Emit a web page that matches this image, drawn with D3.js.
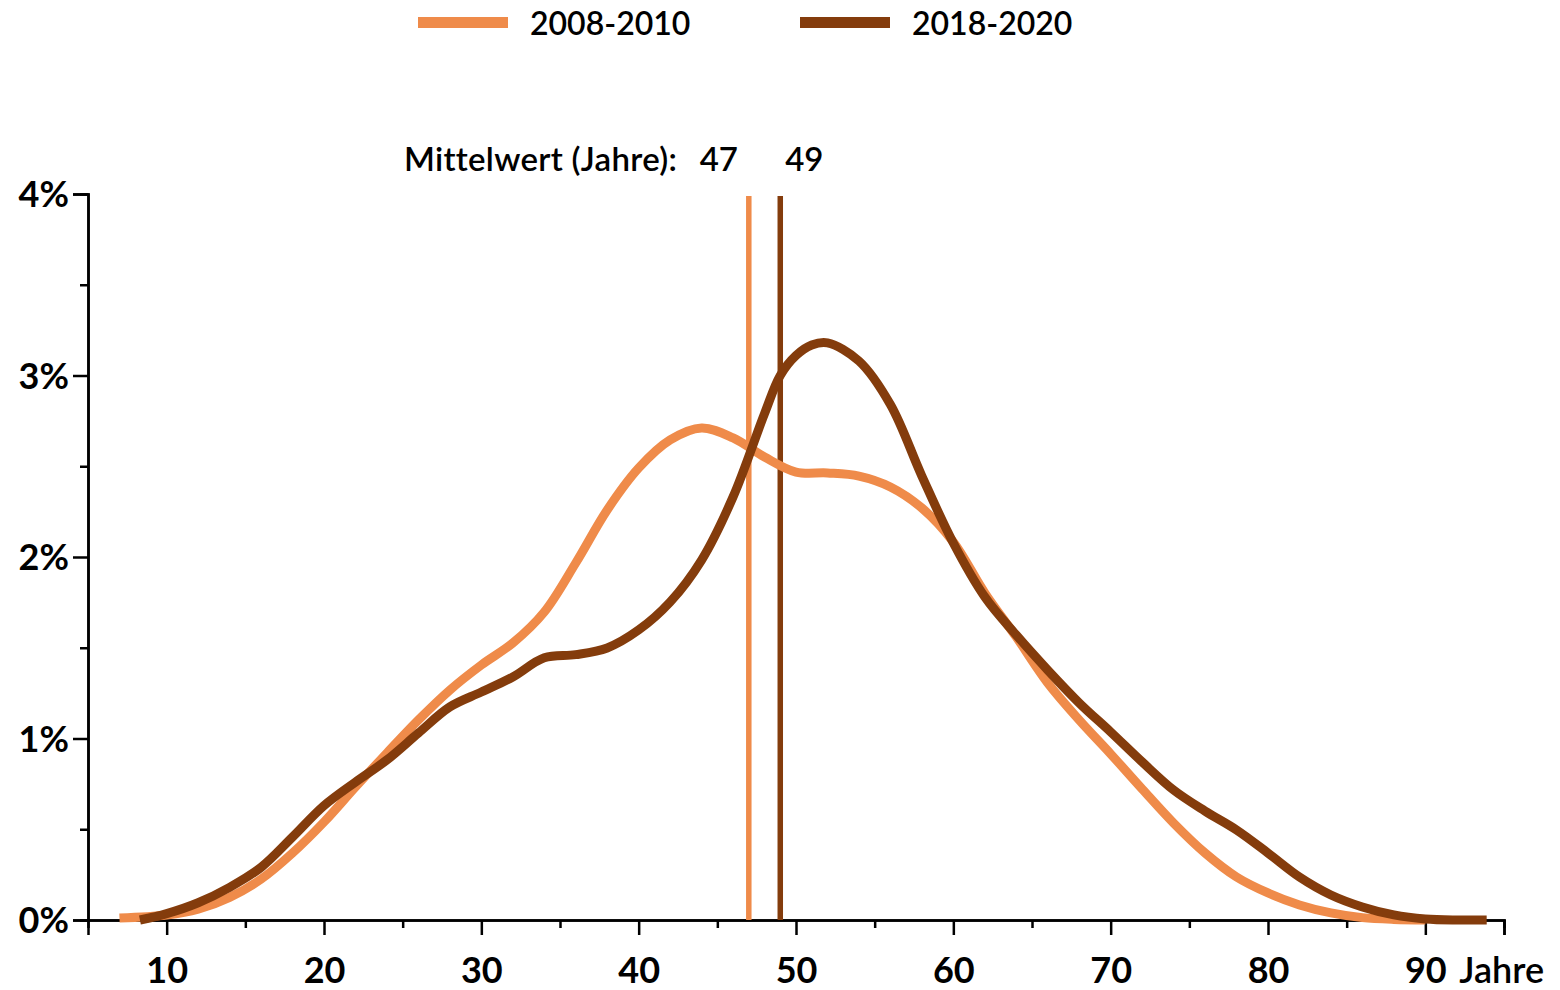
<!DOCTYPE html>
<html>
<head>
<meta charset="utf-8">
<script src="https://cdn.jsdelivr.net/npm/d3@7"></script>
<style>
  body { margin: 0; background: #fff; }
  svg { display: block; font-family: Lato, "Open Sans", sans-serif; }
</style>
</head>
<body>
<svg id="chart" width="1560" height="990"></svg>
<script>
// ---- Data ----
const seriesNames = ["2008-2010", "2018-2020"];
const seriesColors = ["#EF8B4A", "#843C0C"];
const meanAges = [47, 49];

const agesA = [7, 10, 12, 14, 16, 18, 20, 22, 24, 26, 28, 30, 32, 34, 36, 38, 40, 42, 44, 46, 48, 50, 52, 54, 56, 58, 60, 62, 64, 66, 68, 70, 72, 74, 76, 78, 80, 82, 84, 86, 88, 90];
const valuesA = [0.011, 0.028, 0.060, 0.125, 0.225, 0.369, 0.540, 0.733, 0.920, 1.102, 1.267, 1.405, 1.526, 1.697, 1.967, 2.259, 2.490, 2.645, 2.711, 2.656, 2.551, 2.468, 2.463, 2.446, 2.386, 2.270, 2.083, 1.802, 1.559, 1.306, 1.102, 0.915, 0.722, 0.534, 0.369, 0.237, 0.149, 0.083, 0.039, 0.013, 0.003, 0.0];

const agesB = [8.3, 10, 12, 14, 16, 18, 20, 22, 24, 26, 28, 30, 32, 34, 36, 38, 40, 42, 44, 46, 48, 49, 50, 51, 52, 54, 56, 58, 60, 62, 64, 66, 68, 70, 72, 74, 76, 78, 80, 82, 84, 86, 88, 90, 92, 93.9];
const valuesB = [0.0, 0.035, 0.095, 0.180, 0.290, 0.457, 0.630, 0.760, 0.882, 1.030, 1.174, 1.256, 1.339, 1.445, 1.462, 1.499, 1.598, 1.752, 1.983, 2.331, 2.790, 3.000, 3.110, 3.168, 3.180, 3.080, 2.840, 2.446, 2.077, 1.780, 1.570, 1.377, 1.196, 1.036, 0.871, 0.716, 0.600, 0.496, 0.369, 0.237, 0.138, 0.072, 0.028, 0.006, 0.0, 0.0];

const xMajorTicks = [10, 20, 30, 40, 50, 60, 70, 80, 90, 95];
const xMinorTicks = [15, 25, 35, 45, 55, 65, 75, 85];
const yMajorTicks = [0, 1, 2, 3, 4];
const yMinorTicks = [0.5, 1.5, 2.5, 3.5];
const xUnitLabel = "Jahre";
const meanLabel = "Mittelwert (Jahre):";

// ---- Layout ----
const svg = d3.select("#chart");
const x = d3.scaleLinear().domain([5, 95]).range([88, 1504]);
const y = d3.scaleLinear().domain([0, 4]).range([920, 194]);

const tickFont = 36;
// y axis
const yAxisMajor = d3.axisLeft(y).tickValues(yMajorTicks).tickSize(15).tickPadding(4).tickFormat(d => d + "%");
const yAxisMinor = d3.axisLeft(y).tickValues(yMinorTicks).tickSize(8).tickFormat("");
const gy = svg.append("g").attr("transform", `translate(${x(5)},0)`).call(yAxisMajor);
svg.append("g").attr("transform", `translate(${x(5)},0)`).call(yAxisMinor);

// x axis
const xAxisMajor = d3.axisBottom(x).tickValues(xMajorTicks).tickSize(15).tickPadding(22).tickFormat(d => d === 95 ? "" : d);
const xAxisMinor = d3.axisBottom(x).tickValues(xMinorTicks).tickSize(8).tickFormat("");
const gx = svg.append("g").attr("transform", `translate(0,${y(0)})`).call(xAxisMajor);
svg.append("g").attr("transform", `translate(0,${y(0)})`).call(xAxisMinor);

svg.selectAll(".domain").attr("stroke", "#000").attr("stroke-width", 2.5);
svg.selectAll(".tick line").attr("stroke", "#000").attr("stroke-width", 2.5);
[gy, gx].forEach(g => g.selectAll("text")
  .attr("font-size", tickFont).attr("font-weight", 700).attr("fill", "#000")
  .attr("font-family", "Lato, sans-serif"));
gy.selectAll("text").attr("dy", "0.36em");

// unit label after 90
svg.append("text").attr("x", x(90) + 34).attr("y", y(0) + 63)
  .attr("font-size", tickFont).attr("font-weight", 600).text(xUnitLabel);

// ---- Mean lines ----
meanAges.forEach((m, i) => {
  svg.append("line")
    .attr("x1", x(m)).attr("x2", x(m))
    .attr("y1", y(4) + 2).attr("y2", y(0))
    .attr("stroke", seriesColors[i]).attr("stroke-width", 5.5);
});

// mean labels
svg.append("text").attr("x", 404).attr("y", 171).attr("font-size", 33).attr("font-weight", 600)
  .attr("letter-spacing", 0.3).text(meanLabel);
const meanLabelOffsets = [-30, 24];
meanAges.forEach((m, i) => {
  svg.append("text").attr("x", x(m) + meanLabelOffsets[i]).attr("y", 171).attr("text-anchor", "middle")
    .attr("font-size", 33).attr("font-weight", 600).text(m);
});

// ---- Curves ----
const line = d3.line().x(d => x(d[0])).y(d => y(d[1])).curve(d3.curveCatmullRom.alpha(0.5));
const dataA = agesA.map((a, i) => [a, valuesA[i]]);
const dataB = agesB.map((a, i) => [a, valuesB[i]]);
[dataA, dataB].forEach((data, i) => {
  svg.append("path").datum(data).attr("d", line)
    .attr("fill", "none").attr("stroke", seriesColors[i]).attr("stroke-width", 9)
    .attr("stroke-linejoin", "round").attr("stroke-linecap", "butt");
});

// ---- Legend ----
const legendX = [418, 800];
seriesNames.forEach((name, i) => {
  svg.append("rect").attr("x", legendX[i]).attr("y", 17).attr("width", 90).attr("height", 11)
    .attr("fill", seriesColors[i]);
  svg.append("text").attr("x", legendX[i] + 112).attr("y", 35)
    .attr("font-size", 32).attr("font-weight", 600).text(name);
});
</script>
</body>
</html>
